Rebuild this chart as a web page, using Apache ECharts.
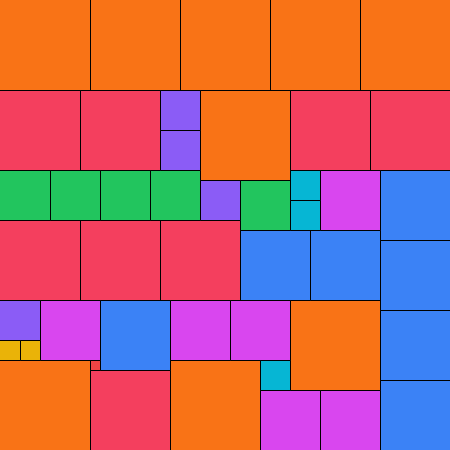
<!DOCTYPE html>
<html>
<head>
<meta charset="utf-8">
<script src="https://cdn.jsdelivr.net/npm/echarts@6/dist/echarts.min.js"></script>
<style>
  html, body { margin: 0; padding: 0; background: #fff; }
  #main { width: 450px; height: 450px; }
</style>
</head>
<body>
<div id="main"></div>
<script>
// partridge packing: square size n appears n times, grid of 45 x 45
const side = 45
const xs    = [0, 9, 18, 27, 36, 20, 29, 0, 17,   0, 8, 29, 37, 0, 8, 16, 9,   38, 24, 31, 38, 10, 38, 38,   32, 4, 17, 23, 26, 32,   0, 5, 10, 15, 24,   16, 16, 20, 0,   29, 29, 26,   0, 2,   9]
const ys    = [0, 0, 0, 0, 0, 9, 30, 36, 36,      9, 9, 9, 9, 22, 22, 22, 37,  17, 23, 23, 24, 30, 31, 38,   17, 30, 30, 30, 39, 39,    17, 17, 17, 17, 18,  9, 13, 18, 30,    17, 20, 36,   34, 34,   36]
const sizes = [9, 9, 9, 9, 9, 9, 9, 9, 9,         8, 8, 8, 8, 8, 8, 8, 8,      7, 7, 7, 7, 7, 7, 7,         6, 6, 6, 6, 6, 6,         5, 5, 5, 5, 5,       4, 4, 4, 4,        3, 3, 3,      2, 2,     1]
// colour for each size 1..9
const sizeColors = ['#ef4444', '#eab308', '#06b6d4', '#8b5cf6', '#22c55e', '#d946ef', '#3b82f6', '#f43f5e', '#f97316']

const chart = echarts.init(document.getElementById('main'))

const data = xs.map((x, i) => [x, ys[i], sizes[i]])

const renderItem = (params, api) => {
  const x = api.value(0)
  const y = api.value(1)
  const s = api.value(2)
  const p0 = api.coord([x, y])
  const p1 = api.coord([x + s, y + s])
  // push the outer edge strokes just off the canvas, like the reference
  const dx = x === 0 ? 1 : 0
  const dy = y === 0 ? 1 : 0
  return {
    type: 'rect',
    shape: {
      x: Math.round(p0[0]) + 0.5 - dx,
      y: Math.round(p0[1]) + 0.5 - dy,
      width: Math.round(p1[0] - p0[0]) + dx,
      height: Math.round(p1[1] - p0[1]) + dy
    },
    style: {
      fill: sizeColors[s - 1],
      stroke: '#000',
      lineWidth: 1
    }
  }
}

chart.setOption({
  animation: false,
  grid: { left: 0, right: 0, top: 0, bottom: 0 },
  xAxis: { type: 'value', min: 0, max: side, show: false },
  yAxis: { type: 'value', min: 0, max: side, inverse: true, show: false },
  series: [{
    type: 'custom',
    renderItem: renderItem,
    data: data,
    encode: { x: 0, y: 1 }
  }]
})
</script>
</body>
</html>
